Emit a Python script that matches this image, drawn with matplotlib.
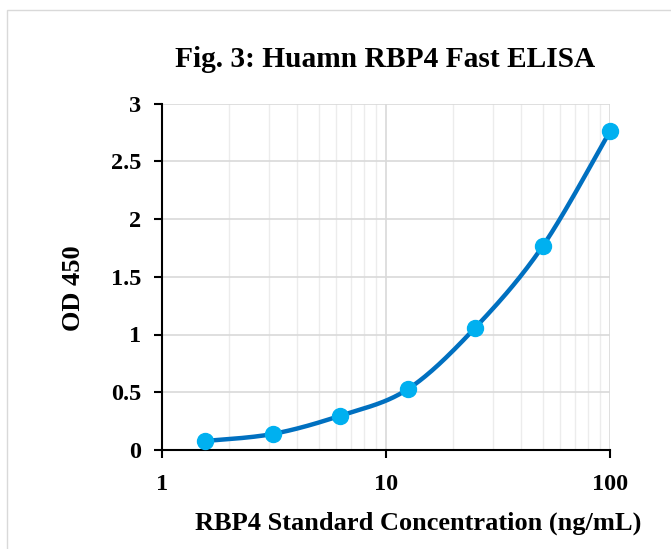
import matplotlib
matplotlib.use("Agg")
import matplotlib.pyplot as plt
import numpy as np
from matplotlib.patches import Rectangle

# standard curve data
conc = [1.5625, 3.125, 6.25, 12.5, 25, 50, 100]
od = [0.078, 0.139, 0.297, 0.526, 1.058, 1.763, 2.76]
y_ticks = [0, 0.5, 1, 1.5, 2, 2.5, 3]
y_tick_labels = ["0", "0.5", "1", "1.5", "2", "2.5", "3"]
x_ticks = [1, 10, 100]
x_tick_labels = ["1", "10", "100"]

plt.rcParams['font.family'] = ['Liberation Serif', 'DejaVu Serif']
plt.rcParams['font.weight'] = 'bold'

fig = plt.figure(figsize=(6.71, 5.49), dpi=100)
W, H = 671, 549

# light grey chart border (cut off at right/bottom like the source)
fig.patches.append(Rectangle((7 / W, -0.1), 1.2, 1 - 10 / H + 0.1, transform=fig.transFigure,
                             fill=False, edgecolor='#d9d9d9', lw=1.0))

ax = fig.add_axes([162 / W, 99 / H, 448 / W, 346.5 / H])
ax.set_xscale('log')
ax.set_xlim(1, 100)
ax.set_ylim(0, 3)

ax.set_yticks(y_ticks)
ax.set_yticklabels(y_tick_labels)
ax.set_xticks(x_ticks)
ax.set_xticklabels(x_tick_labels)
ax.set_xticks([m * d for d in (1, 10) for m in range(2, 10)], minor=True)
ax.tick_params(axis='x', which='minor', length=0)
ax.tick_params(axis='both', which='major', direction='out', length=6, width=1.5,
               labelsize=17.5, color='black')
ax.tick_params(axis='y', pad=9)
ax.tick_params(axis='x', pad=11)

for s in ('top', 'right'):
    ax.spines[s].set_visible(False)
for s in ('left', 'bottom'):
    ax.spines[s].set_linewidth(1.5)

ax.grid(True, axis='x', which='minor', color='#ececec', lw=1.0)
ax.grid(True, axis='x', which='major', color='#d9d9d9', lw=1.2)
ax.grid(True, axis='y', which='major', color='#d9d9d9', lw=1.2)
ax.set_axisbelow(True)

# smoothed line (Excel style Catmull-Rom in display space)
pts = ax.transData.transform(np.column_stack([conc, od]))
ext = np.vstack([pts[0], pts, pts[-1]])
curve = []
t = np.linspace(0, 1, 40)[:, None]
for i in range(1, len(ext) - 2):
    p0, p1, p2, p3 = ext[i - 1], ext[i], ext[i + 1], ext[i + 2]
    c1 = p1 + (p2 - p0) / 6
    c2 = p2 - (p3 - p1) / 6
    seg = ((1 - t) ** 3) * p1 + 3 * ((1 - t) ** 2) * t * c1 + 3 * (1 - t) * t ** 2 * c2 + t ** 3 * p2
    curve.append(seg)
curve = ax.transData.inverted().transform(np.vstack(curve))
ax.plot(curve[:, 0], curve[:, 1], color='#0070C0', lw=3.2, solid_capstyle='round', zorder=3, clip_on=False)
ax.plot(conc, od, 'o', color='#00B0F0', markersize=11.5, zorder=4, clip_on=False)

fig.text(385 / W, 1 - 67 / H, "Fig. 3: Huamn RBP4 Fast ELISA", ha='center', va='baseline',
         fontsize=21.2, fontweight='bold')
fig.text(73 / W, 1 - 288 / H, "OD 450", rotation=90, ha='center', va='center',
         fontsize=19, fontweight='bold')
fig.text(418 / W, 1 - 530 / H, "RBP4 Standard Concentration (ng/mL)", ha='center', va='baseline',
         fontsize=19, fontweight='bold')

fig.savefig("out.png", dpi=100)
